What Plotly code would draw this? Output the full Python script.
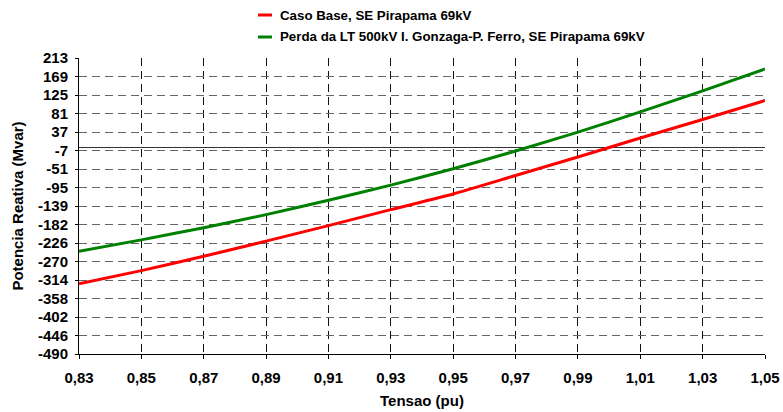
import plotly.graph_objects as go

tensao = [0.83, 0.85, 0.87, 0.89, 0.91, 0.93, 0.95, 0.97, 0.99, 1.01, 1.03, 1.05]
caso_base = [-323, -292, -258, -222, -185, -147, -110, -66, -22, 23, 67, 112]
perda_lt = [-246, -219, -190, -159, -125, -89, -50, -8, 37, 85, 135, 187]

series_names = ["Caso Base, SE Pirapama 69kV",
                "Perda da LT 500kV I. Gonzaga-P. Ferro, SE Pirapama 69kV"]
series_colors = ["#ff0000", "#008000"]

y_tickvals = [213 - 703 / 16 * k for k in range(17)]
y_ticktext = ["213", "169", "125", "81", "37", "-7", "-51", "-95", "-139", "-182",
              "-226", "-270", "-314", "-358", "-402", "-446", "-490"]
x_tickvals = [0.83, 0.85, 0.87, 0.89, 0.91, 0.93, 0.95, 0.97, 0.99, 1.01, 1.03, 1.05]
x_ticktext = ["0,83", "0,85", "0,87", "0,89", "0,91", "0,93", "0,95", "0,97", "0,99", "1,01", "1,03", "1,05"]

FONT = "Arial, Liberation Sans, sans-serif"

PL, PR, PT, PB = 79, 765, 58, 354  # plot area pixels
W, H = 783, 412


def px_x(x):
    return (x - PL) / (PR - PL)


def px_y(y):
    return (PB - y) / (PB - PT)


fig = go.Figure()
for name, ys, col in zip(series_names, [caso_base, perda_lt], series_colors):
    fig.add_trace(go.Scatter(x=tensao, y=ys, mode="lines", name=name,
                             line=dict(color=col, width=3, shape="spline", smoothing=0.6),
                             showlegend=False, cliponaxis=False))

# custom legend
leg_rows = [15, 37]
for name, col, yy in zip(series_names, series_colors, leg_rows):
    fig.add_shape(type="line", xref="paper", yref="paper",
                  x0=px_x(258), x1=px_x(272), y0=px_y(yy), y1=px_y(yy),
                  line=dict(color=col, width=3))
    fig.add_annotation(text=f"<b>{name}</b>", xref="paper", yref="paper",
                       x=px_x(278), y=px_y(yy), xanchor="left", yanchor="middle",
                       showarrow=False, font=dict(family=FONT, size=13.3, color="#000"))

fig.update_layout(
    width=W, height=H,
    margin=dict(l=PL, r=W - PR, t=PT, b=H - PB),
    paper_bgcolor="white", plot_bgcolor="white",
    font=dict(family=FONT, size=15, color="#000"),
)
fig.update_xaxes(
    range=[0.83, 1.05], tickvals=x_tickvals, ticktext=[f"<b>{t}</b>" for t in x_ticktext],
    showgrid=True, gridcolor="#111", griddash="8px,5px", gridwidth=1,
    showline=True, linecolor="#000", linewidth=1,
    ticks="outside", ticklen=4, tickcolor="#000", zeroline=False,
    tickfont=dict(size=15, family=FONT), ticklabelstandoff=6, automargin=False,
    title=dict(text="<b>Tensao (pu)</b>", font=dict(size=15, family=FONT), standoff=10),
)
fig.update_yaxes(
    range=[-490, 213], tickvals=y_tickvals, ticktext=[f"<b>{t}</b>" for t in y_ticktext],
    showgrid=True, gridcolor="#666", griddash="8px,5px", gridwidth=1,
    showline=True, linecolor="#000", linewidth=1,
    ticks="outside", ticklen=3, tickcolor="#000",
    zeroline=True, zerolinecolor="#333", zerolinewidth=1,
    tickfont=dict(size=15, family=FONT), ticklabelstandoff=4, automargin=False,
    title=dict(text="<b>Potencia Reativa (Mvar)</b>", font=dict(size=15, family=FONT), standoff=10),
)

fig.write_html("out.html")
